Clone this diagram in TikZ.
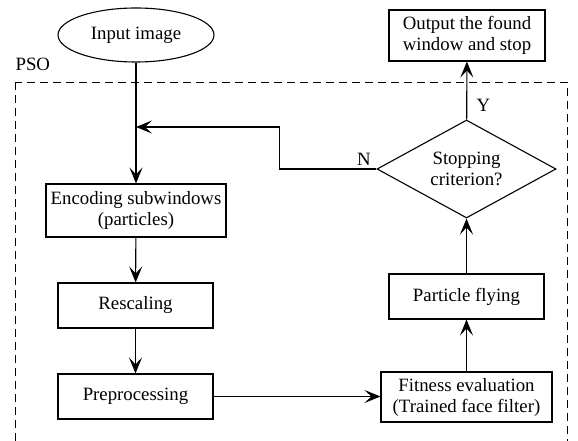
\documentclass[tikz,border=0pt]{standalone}
\usepackage{fontspec}
\setmainfont{Liberation Serif}
\usetikzlibrary{arrows.meta}
\usetikzlibrary{shapes.geometric}
\usetikzlibrary{positioning}

\begin{document}
\begin{tikzpicture}[x=1bp,y=-1bp,line width=1.1bp,
    font=\fontsize{18.8bp}{21bp}\selectfont,
    arr/.style={-{Stealth[length=16bp,width=13bp,inset=7bp]}},
    procbox/.style={draw,rectangle,align=center,inner sep=0pt},
    startnode/.style={draw,ellipse,inner sep=0pt,minimum width=156bp,minimum height=54bp},
    decision/.style={draw,diamond,aspect=1.83,inner sep=0pt,align=center,
      minimum width=179bp,minimum height=98bp}]
  \useasboundingbox (0,0) rectangle (578,441);

  % PSO region
  \draw[line width=0.9bp,dash pattern=on 8bp off 5bp] (15,82) rectangle (567,450);
  \node[anchor=base west,inner sep=0pt] (pso) at (15,71) {PSO};

  \node[startnode] (inp) at (136,35) {Input image};

  \node[procbox,minimum width=180bp,minimum height=53bp] (enc) at (136,210.5) {Encoding subwindows\\(particles)};
  \node[procbox,minimum width=155bp,minimum height=45bp] (resc) at (135.5,305.5) {Rescaling};
  \node[procbox,minimum width=155bp,minimum height=45bp] (prep) at (135.5,396.5) {Preprocessing};

  \node[procbox,minimum width=171bp,minimum height=50bp] (fit) at (466.5,397) {Fitness evaluation\\(Trained face filter)};
  \node[procbox,minimum width=155bp,minimum height=45bp] (fly) at (466.5,296.5) {Particle flying};
  \node[decision] (stop) at (466.5,169) {Stopping\\criterion?};
  \node[procbox,minimum width=156bp,minimum height=51bp] (out) at (467,35.5) {Output the found\\window and stop};

  \coordinate (merge) at (136,127);

  \draw[arr] (inp) -- (enc);
  \draw[arr] (enc) -- (resc);
  \draw[arr] (resc) -- (prep);
  \draw[arr] (prep.east) -- (fit.west |- prep.east);
  \draw[arr] (fit) -- (fly);
  \draw[arr] (fly) -- (stop);
  \draw[arr] (stop) -- node[pos=0.25,right=6bp] (yes) {Y} (out);
  \draw[arr] (stop.west) -- ++(-97,0) |- (merge);
  \node[above left=0bp and 2bp of stop.west] (no) {N};
\end{tikzpicture}
\end{document}
